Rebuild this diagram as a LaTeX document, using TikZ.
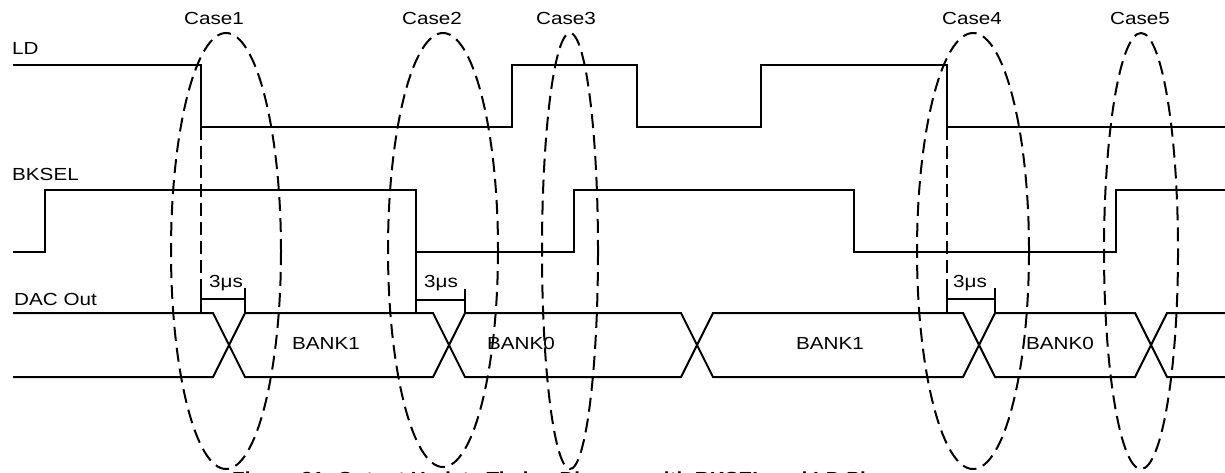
\documentclass[tikz,border=0pt]{standalone}
\usepackage{fontspec}
\newfontfamily\labfont[FakeStretch=1.18]{Liberation Sans}
\begin{document}
\begin{tikzpicture}[x=1pt,y=-1pt,
  sig/.style={line width=2pt, line join=miter},
  dsh/.style={line width=2pt, dash pattern=on 13pt off 6pt},
  ell/.style={line width=2pt, dash pattern=on 14pt off 7pt},
  lab/.style={font=\labfont\fontsize{17.5}{20}\selectfont, inner sep=0pt},
  captext/.style={font=\labfont\bfseries\fontsize{17.5}{20}\selectfont, inner sep=0pt}]
\useasboundingbox (0,0) rectangle (1225,472);
\fill[white] (0,0) rectangle (1225,472);
% signal names
\node[lab, anchor=west] (ldlab) at (12,48) {LD};
\node[lab, anchor=west] (bklab) at (12,174) {BKSEL};
\node[lab, anchor=west] (daclab) at (14,299) {DAC Out};
% LD
\draw[sig] (13,65) -- (201,65) -- (201,127) -- (512,127) -- (512,65) -- (637,65)
  -- (637,127) -- (761,127) -- (761,65) -- (947,65) -- (947,127) -- (1225,127);
% BKSEL
\draw[sig] (13,252) -- (45,252) -- (45,190) -- (416,190) -- (416,252) -- (574,252)
  -- (574,190) -- (854,190) -- (854,252) -- (1116,252) -- (1116,190) -- (1225,190);
% DAC out bus
\draw[sig] (13,313) -- (213,313) -- (245,377) -- (433,377) -- (465,313) -- (681,313)
  -- (713,377) -- (963,377) -- (995,313) -- (1135,313) -- (1167,377) -- (1225,377);
\draw[sig] (13,377) -- (213,377) -- (245,313) -- (433,313) -- (465,377) -- (681,377)
  -- (713,313) -- (963,313) -- (995,377) -- (1135,377) -- (1167,313) -- (1225,313);
\node[lab] (b1a) at (326,343) {BANK1};
\node[lab] (b0a) at (521,343) {BANK0};
\node[lab] (b1b) at (830,343) {BANK1};
\node[lab] (b0b) at (1060,343) {BANK0};
% 3us brackets
\draw[dsh] (201,127) -- (201,283);
\draw[sig] (201,283) -- (201,313);
\draw[sig] (201,299) -- (245,299);
\draw[sig] (245,288) -- (245,313);
\node[lab, anchor=base west] (t1) at (209,287) {3μs};
\draw[sig] (416,252) -- (416,313);
\draw[sig] (416,300) -- (465,300);
\draw[sig] (465,289) -- (465,313);
\node[lab, anchor=base west] (t2) at (424,287) {3μs};
\draw[dsh] (947,127) -- (947,283);
\draw[sig] (947,283) -- (947,313);
\draw[sig] (947,299) -- (995,299);
\draw[sig] (995,288) -- (995,313);
\node[lab, anchor=base west] (t4) at (953,287) {3μs};
% case ellipses
\draw[ell] (226,251) ellipse [x radius=55, y radius=218];
\draw[ell] (443,250) ellipse [x radius=55, y radius=217];
\draw[ell] (570,251) ellipse [x radius=28, y radius=218];
\draw[ell] (973,251) ellipse [x radius=56, y radius=218];
\draw[ell] (1141,251) ellipse [x radius=37, y radius=218];
\node[lab] (c1) at (214,18) {Case1};
\node[lab] (c2) at (432,18) {Case2};
\node[lab] (c3) at (566,18) {Case3};
\node[lab] (c4) at (972,18) {Case4};
\node[lab] (c5) at (1140,18) {Case5};
% caption (cut off by the page edge, as in the reference)
\node[captext, anchor=base west] (capt) at (232,484) {Figure 21. Output Update Timing Diagram with BKSEL and LD Pins};
\end{tikzpicture}
\end{document}
